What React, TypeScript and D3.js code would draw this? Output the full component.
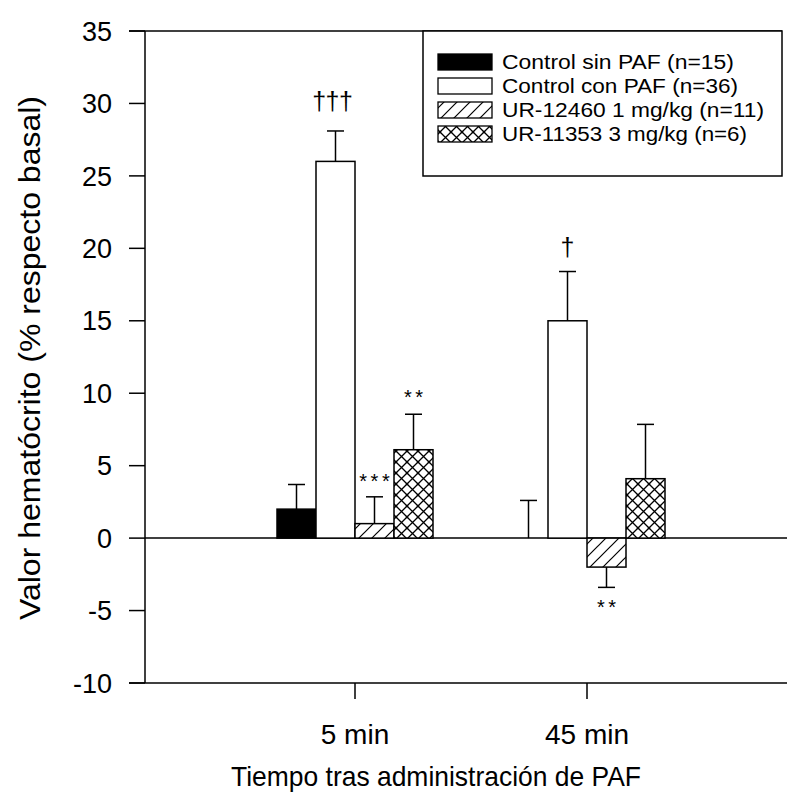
import React from "react";
import * as d3 from "d3";

const groups = ["5 min", "45 min"];
const series = [
  "Control sin PAF (n=15)",
  "Control con PAF (n=36)",
  "UR-12460 1 mg/kg (n=11)",
  "UR-11353 3 mg/kg (n=6)",
];
// values[series][group]
const means = [
  [2.0, 0.0],
  [26.0, 15.0],
  [1.0, -2.0],
  [6.1, 4.1],
];
const errors = [
  [1.7, 2.6],
  [2.1, 3.4],
  [1.85, 1.4],
  [2.45, 3.75],
];
// annotations: [series, group, text, above?]
const annotations: [number, number, string, boolean][] = [
  [1, 0, "†††", true],
  [2, 0, "***", true],
  [3, 0, "**", true],
  [1, 1, "†", true],
  [2, 1, "**", false],
];
const annotationGap = [21, 9, 10, 16, 27];
const yTicks = [-10, -5, 0, 5, 10, 15, 20, 25, 30, 35];
const fills = ["#000", "#fff", "url(#hatch)", "url(#cross)"];

const FONT = "'Liberation Sans', Arial, Helvetica, sans-serif";

export default function App() {
  const W = 787, H = 806;
  const axisX = 145;
  const y = d3.scaleLinear().domain([-10, 35]).range([683, 31]);
  const xg = d3.scalePoint<string>().domain(groups).range([355, 587]);
  const xs = d3.scaleBand<number>().domain(d3.range(series.length)).range([-78, 78]);
  const bw = xs.bandwidth();

  return (
    <svg width={W} height={H} style={{ position: "absolute", left: 0, top: 0, background: "#fff" }} fontFamily={FONT}>
      <defs>
        <pattern id="hatch" patternUnits="userSpaceOnUse" width="13" height="13">
          <rect width="13" height="13" fill="#fff" />
          <path d="M-1,14 L14,-1 M-3,3 L3,-3 M10,16 L16,10" stroke="#000" strokeWidth="1.2" />
        </pattern>
        <pattern id="cross" patternUnits="userSpaceOnUse" width="11" height="11">
          <rect width="11" height="11" fill="#fff" />
          <path d="M0,0 L11,11 M11,0 L0,11" stroke="#000" strokeWidth="1.3" />
          <circle cx="0" cy="0" r="1.3" fill="#000" />
          <circle cx="11" cy="0" r="1.3" fill="#000" />
          <circle cx="0" cy="11" r="1.3" fill="#000" />
          <circle cx="11" cy="11" r="1.3" fill="#000" />
        </pattern>
      </defs>

      {/* frame lines */}
      <line x1={129} x2={782} y1={y(35)} y2={y(35)} stroke="#000" strokeWidth={1.5} />
      <line x1={129} x2={787} y1={y(-10)} y2={y(-10)} stroke="#000" strokeWidth={1.5} />
      <line x1={axisX} x2={787} y1={y(0)} y2={y(0)} stroke="#000" strokeWidth={1.5} />
      <line x1={axisX} x2={axisX} y1={y(35)} y2={y(-10)} stroke="#000" strokeWidth={1.5} />

      {/* y ticks */}
      {yTicks.map((t) => (
        <g key={t}>
          <line x1={129} x2={axisX} y1={y(t)} y2={y(t)} stroke="#000" strokeWidth={1.5} />
          <text x={112} y={y(t)} dy="0.36em" textAnchor="end" fontSize={27}>
            {t}
          </text>
        </g>
      ))}

      {/* x ticks */}
      {groups.map((g) => (
        <g key={g}>
          <line x1={xg(g)} x2={xg(g)} y1={y(-10)} y2={y(-10) + 16} stroke="#000" strokeWidth={1.5} />
          <text x={xg(g)} y={744} textAnchor="middle" fontSize={28}>
            {g}
          </text>
        </g>
      ))}

      {/* bars */}
      {series.map((s, si) =>
        groups.map((g, gi) => {
          const v = means[si][gi];
          const e = errors[si][gi];
          const x0 = (xg(g) as number) + (xs(si) as number);
          const cx = x0 + bw / 2;
          const top = y(Math.max(v, 0));
          const bot = y(Math.min(v, 0));
          const tip = v >= 0 ? y(v + e) : y(v - e);
          const base = y(v);
          return (
            <g key={s + g}>
              {v !== 0 && (
                <rect x={x0} y={top} width={bw} height={bot - top} fill={fills[si]} stroke="#000" strokeWidth={1.5} />
              )}
              <line x1={cx} x2={cx} y1={base} y2={tip} stroke="#000" strokeWidth={1.5} />
              <line x1={cx - 8.5} x2={cx + 8.5} y1={tip} y2={tip} stroke="#000" strokeWidth={1.5} />
            </g>
          );
        })
      )}

      {/* annotations */}
      {annotations.map(([si, gi, txt, above], i) => {
        const v = means[si][gi];
        const e = errors[si][gi];
        const x0 = (xg(groups[gi]) as number) + (xs(si) as number);
        const cx = x0 + bw / 2;
        const isDagger = txt.includes("†");
        const tip = above ? y(v + e) : y(v - e);
        const ty = above ? tip - annotationGap[i] : tip + annotationGap[i];
        const ls = isDagger ? -0.5 : 3.5;
        return (
          <text
            key={i}
            x={cx + (isDagger && txt.length > 1 ? -3 : 0) + ls / 2}
            y={ty}
            textAnchor="middle"
            fontSize={isDagger ? 25 : 20}
            letterSpacing={ls}
          >
            {txt}
          </text>
        );
      })}

      {/* legend */}
      <rect x={423} y={y(35)} width={359} height={176 - y(35)} fill="#fff" stroke="#000" strokeWidth={1.5} />
      {series.map((s, i) => {
        const cy = 62 + i * 24;
        return (
          <g key={s}>
            <rect x={438} y={cy - 8} width={54} height={16} fill={fills[i]} stroke="#000" strokeWidth={1.3} />
            <text x={502} y={cy} dy="0.36em" fontSize={20} textLength={[232, 236, 262, 245][i]} lengthAdjust="spacingAndGlyphs">
              {s}
            </text>
          </g>
        );
      })}

      {/* axis titles */}
      <text x={436} y={786} textAnchor="middle" fontSize={28} textLength={410} lengthAdjust="spacingAndGlyphs">
        Tiempo tras administración de PAF
      </text>
      <text transform={`translate(40, 358) rotate(-90)`} textAnchor="middle" fontSize={29} textLength={524} lengthAdjust="spacingAndGlyphs">
        Valor hematócrito (% respecto basal)
      </text>
    </svg>
  );
}
